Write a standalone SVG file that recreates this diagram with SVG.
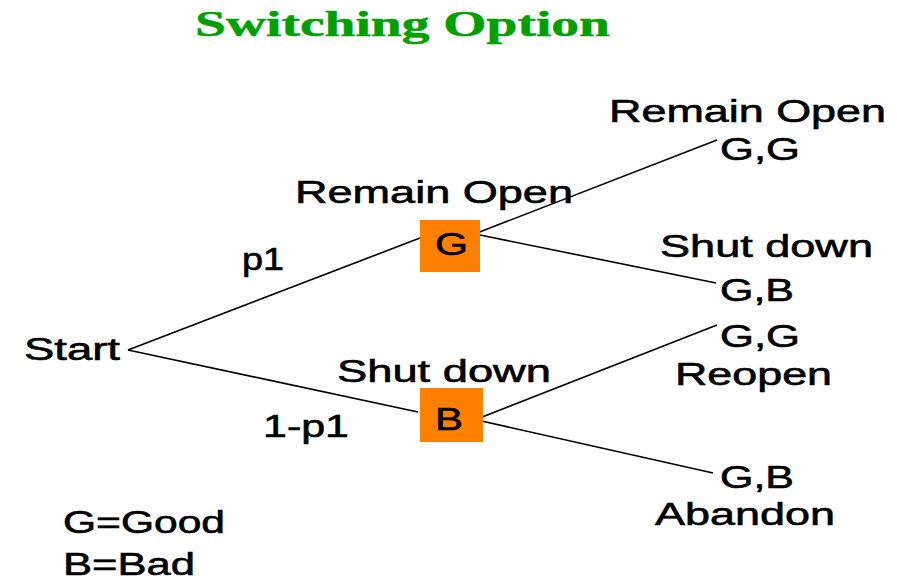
<svg xmlns="http://www.w3.org/2000/svg" width="897" height="582" viewBox="0 0 897 582">
<style>
.t{font-family:"Liberation Sans",Arial,sans-serif;font-size:31px;fill:#000;stroke:#000;stroke-width:0.6}
.title{font-family:"Liberation Serif","Times New Roman",serif;font-weight:bold;font-size:36px;fill:#00A000;stroke:#00A000;stroke-width:0.5}
.box{fill:#FF8000}
.edge{stroke:#000;stroke-width:1.6;fill:none}
</style>
<rect width="897" height="582" fill="#fff"/>
<text class="title" x="195" y="36" textLength="415" lengthAdjust="spacingAndGlyphs">Switching Option</text>
<g id="connectors">
<line class="edge" x1="128" y1="350" x2="420" y2="238"/>
<line class="edge" x1="128" y1="350" x2="418" y2="412"/>
<line class="edge" x1="477" y1="233" x2="717" y2="140"/>
<line class="edge" x1="480" y1="235" x2="716" y2="283"/>
<line class="edge" x1="477" y1="419" x2="717" y2="325"/>
<line class="edge" x1="477" y1="420" x2="713" y2="473"/>
</g>
<g id="start"><text class="t" x="24" y="360" textLength="96" lengthAdjust="spacingAndGlyphs">Start</text></g>
<g id="nodeG">
<rect class="box" x="420" y="220" width="60" height="52"/>
<text class="t" x="435" y="255" textLength="33" lengthAdjust="spacingAndGlyphs">G</text>
</g>
<g id="nodeB">
<rect class="box" x="420" y="388" width="63" height="54"/>
<text class="t" x="435" y="430" textLength="28" lengthAdjust="spacingAndGlyphs">B</text>
</g>
<g id="labels">
<text class="t" x="242" y="270" textLength="42" lengthAdjust="spacingAndGlyphs">p1</text>
<text class="t" x="263" y="437" textLength="86" lengthAdjust="spacingAndGlyphs">1-p1</text>
<text class="t" x="295" y="203" textLength="278" lengthAdjust="spacingAndGlyphs">Remain Open</text>
<text class="t" x="337" y="382" textLength="214" lengthAdjust="spacingAndGlyphs">Shut down</text>
</g>
<g id="leafGG1">
<text class="t" x="609" y="122" textLength="277" lengthAdjust="spacingAndGlyphs">Remain Open</text>
<text class="t" x="720" y="160" textLength="80" lengthAdjust="spacingAndGlyphs">G,G</text>
</g>
<g id="leafGB1">
<text class="t" x="660" y="257" textLength="213" lengthAdjust="spacingAndGlyphs">Shut down</text>
<text class="t" x="720" y="301" textLength="74" lengthAdjust="spacingAndGlyphs">G,B</text>
</g>
<g id="leafGG2">
<text class="t" x="720" y="347" textLength="80" lengthAdjust="spacingAndGlyphs">G,G</text>
<text class="t" x="675" y="385" textLength="157" lengthAdjust="spacingAndGlyphs">Reopen</text>
</g>
<g id="leafGB2">
<text class="t" x="720" y="488" textLength="74" lengthAdjust="spacingAndGlyphs">G,B</text>
<text class="t" x="655" y="525" textLength="180" lengthAdjust="spacingAndGlyphs">Abandon</text>
</g>
<g id="legend">
<text class="t" x="63" y="533" textLength="162" lengthAdjust="spacingAndGlyphs">G=Good</text>
<text class="t" x="63" y="575" textLength="132" lengthAdjust="spacingAndGlyphs">B=Bad</text>
</g>
</svg>
